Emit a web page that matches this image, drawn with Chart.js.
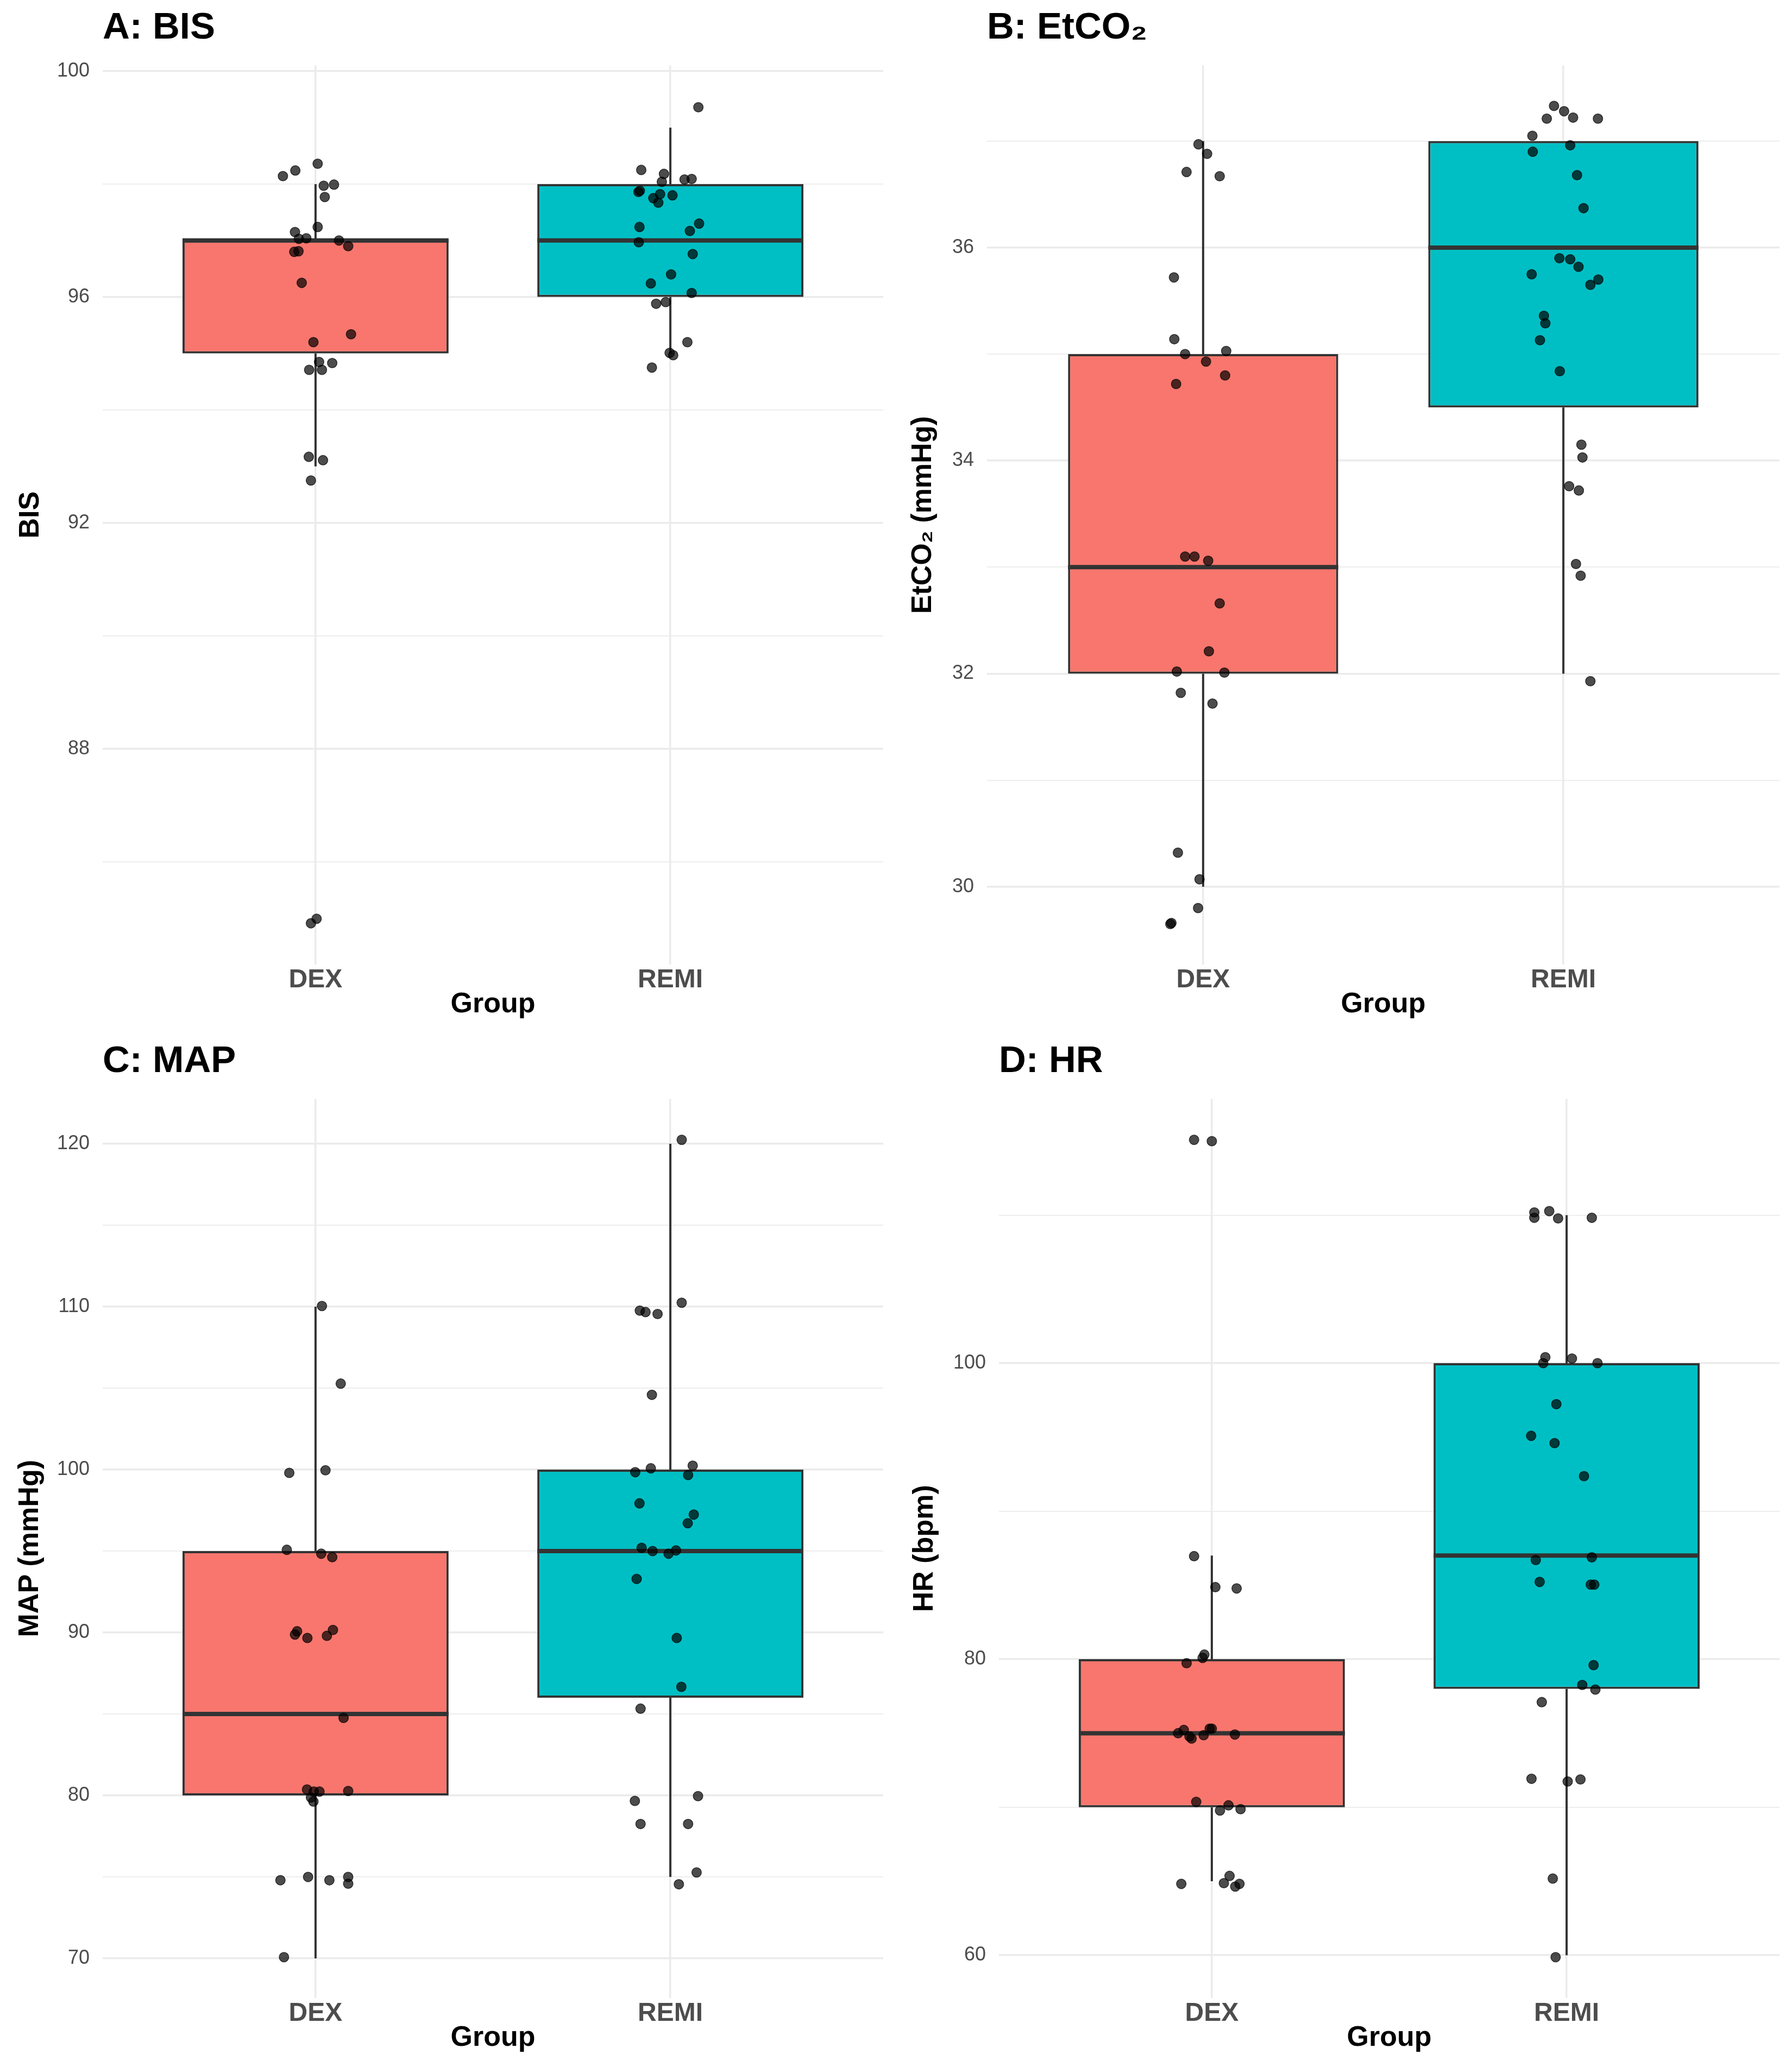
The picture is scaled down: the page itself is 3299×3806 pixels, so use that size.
<!DOCTYPE html>
<html>
<head>
<meta charset="utf-8">
<script src="https://cdn.jsdelivr.net/npm/chart.js@4.4.1/dist/chart.umd.min.js"></script>
<style>
  html, body { margin: 0; padding: 0; background: #ffffff; }
  #wrap { position: relative; width: 3299px; height: 3806px; }
  canvas { position: absolute; }
</style>
</head>
<body>
<div id="wrap">
  <canvas id="bis" width="1650" height="1903" style="left:0px;top:0px;width:1650px;height:1903px"></canvas>
  <canvas id="etco2" width="1649" height="1903" style="left:1650px;top:0px;width:1649px;height:1903px"></canvas>
  <canvas id="map" width="1650" height="1903" style="left:0px;top:1903px;width:1650px;height:1903px"></canvas>
  <canvas id="hr" width="1649" height="1903" style="left:1650px;top:1903px;width:1649px;height:1903px"></canvas>
</div>
<script>
//** DATA */
const groups = ['DEX', 'REMI'];
const groupColors = ['#F8766D', '#00BFC4'];

// box statistics, one value per group [DEX, REMI]
const bisQ1 = [95, 96], bisMedian = [97, 97], bisQ3 = [97, 98], bisLow = [93, 95], bisHigh = [98, 99];
const etco2Q1 = [32, 34.5], etco2Median = [33, 36], etco2Q3 = [35, 37], etco2Low = [30, 32], etco2High = [37, 37];
const mapQ1 = [80, 86], mapMedian = [85, 95], mapQ3 = [95, 100], mapLow = [70, 75], mapHigh = [110, 120];
const hrQ1 = [70, 78], hrMedian = [75, 87], hrQ3 = [80, 100], hrLow = [65, 60], hrHigh = [87, 110];

// jittered observations: [horizontal jitter, value]
const bisDex = [[-0.092,98.14],[-0.057,98.24],[0.006,98.36],[0.023,97.97],[0.052,97.99],[0.026,97.77],[0.006,97.24],
  [-0.058,97.15],[-0.047,97.03],[-0.026,97.04],[0.066,97.00],[0.092,96.90],[-0.060,96.80],[-0.048,96.81],[-0.039,96.25],
  [-0.006,95.20],[0.100,95.34],[0.010,94.85],[0.047,94.83],[-0.018,94.71],[0.018,94.71],[-0.019,93.17],[0.021,93.11],
  [-0.013,92.75],[-0.013,84.91],[0.003,84.99]];
const bisRemi = [[0.079,99.36],[-0.082,98.25],[-0.018,98.18],[0.040,98.08],[0.060,98.09],[-0.024,98.04],[-0.090,97.86],
  [-0.086,97.88],[-0.048,97.75],[-0.029,97.82],[0.006,97.80],[-0.034,97.67],[-0.087,97.24],[0.081,97.30],[0.055,97.17],
  [-0.089,96.97],[0.063,96.76],[0.002,96.40],[-0.055,96.24],[0.060,96.07],[-0.040,95.88],[-0.013,95.91],[0.048,95.20],
  [-0.002,95.01],[0.008,94.97],[-0.052,94.75]];
const etco2Dex = [[-0.013,36.97],[0.011,36.88],[-0.046,36.71],[0.046,36.67],[-0.081,35.72],[-0.080,35.14],[-0.050,35.00],
  [0.064,35.03],[0.008,34.93],[0.061,34.80],[-0.075,34.72],[-0.050,33.10],[-0.024,33.10],[0.014,33.06],[0.046,32.66],
  [0.016,32.21],[-0.073,32.02],[0.059,32.01],[-0.062,31.82],[0.026,31.72],[-0.070,30.32],[-0.010,30.07],[-0.014,29.80],
  [-0.091,29.65],[-0.088,29.66]];
const etco2Remi = [[-0.026,37.33],[0.002,37.28],[-0.046,37.21],[0.027,37.22],[0.096,37.21],[-0.086,37.05],[0.019,36.96],
  [-0.085,36.90],[0.038,36.68],[0.056,36.37],[-0.011,35.90],[0.019,35.89],[0.042,35.82],[-0.088,35.75],[0.097,35.70],
  [0.075,35.65],[-0.054,35.36],[-0.050,35.29],[-0.065,35.13],[-0.010,34.84],[0.050,34.15],[0.053,34.03],[0.016,33.76],
  [0.043,33.72],[0.035,33.03],[0.048,32.92],[0.075,31.93]];
const mapDex = [[0.018,110.04],[0.071,105.28],[-0.074,99.80],[0.028,99.96],[-0.081,95.08],[0.016,94.84],[0.047,94.63],
  [-0.052,90.08],[-0.058,89.88],[-0.023,89.67],[0.032,89.80],[0.049,90.16],[0.079,84.76],[-0.024,80.37],[-0.005,80.24],
  [0.011,80.24],[-0.013,79.88],[-0.006,79.63],[0.092,80.28],[-0.099,74.80],[-0.021,75.00],[0.039,74.80],[0.092,75.00],
  [0.092,74.59],[-0.089,70.08]];
const mapRemi = [[0.032,120.24],[0.032,110.24],[-0.086,109.76],[-0.070,109.67],[-0.036,109.55],[-0.052,104.59],[0.063,100.24],
  [-0.055,100.08],[-0.099,99.84],[0.050,99.67],[-0.087,97.93],[0.066,97.24],[0.049,96.71],[-0.081,95.20],[0.016,95.04],
  [-0.050,95.00],[-0.005,94.84],[-0.095,93.29],[0.018,89.67],[0.031,86.67],[-0.084,85.33],[-0.100,79.67],[0.078,79.96],
  [-0.084,78.25],[0.050,78.25],[0.074,75.28],[0.024,74.55]];
const hrDex = [[-0.050,115.09],[0.000,115.00],[-0.050,86.96],[0.010,84.87],[0.070,84.78],[-0.021,80.31],[-0.026,80.09],
  [-0.071,79.73],[-0.079,75.22],[-0.095,75.00],[-0.063,74.78],[-0.057,74.64],[-0.006,75.31],[0.000,75.31],[-0.023,74.87],
  [0.065,74.91],[-0.044,70.36],[0.047,70.13],[0.023,69.78],[0.081,69.87],[-0.086,64.82],[0.050,65.36],[0.034,64.87],
  [0.066,64.64],[0.078,64.82]];
const hrRemi = [[-0.091,110.18],[-0.049,110.27],[-0.091,109.82],[-0.024,109.78],[0.071,109.82],[-0.060,100.40],[0.015,100.31],
  [-0.066,100.00],[0.087,100.00],[-0.029,97.23],[-0.100,95.09],[-0.034,94.60],[0.049,92.37],[-0.087,86.70],[0.071,86.88],
  [-0.076,85.22],[0.068,85.04],[0.078,85.04],[0.076,79.60],[0.044,78.26],[0.081,77.95],[-0.070,77.10],[-0.099,71.92],
  [0.003,71.74],[0.039,71.88],[-0.039,65.18],[-0.031,59.87]];

// y axes: limits, labelled breaks, minor breaks
const bisRange = [84.18, 100.1], bisMajor = [88, 92, 96, 100], bisMinor = [86, 90, 94, 98];
const etco2Range = [29.27, 37.71], etco2Major = [30, 32, 34, 36], etco2Minor = [31, 33, 35, 37];
const mapRange = [67.57, 122.75], mapMajor = [70, 80, 90, 100, 110, 120], mapMinor = [75, 85, 95, 105, 115];
const hrRange = [57.11, 117.85], hrMajor = [60, 80, 100], hrMinor = [70, 90, 110];

//** STYLE */
const FONT = "'Liberation Sans', Arial, Helvetica, sans-serif";
const BOX_WIDTH = 0.75;
const LINE_COLOR = '#333333';
const GRID_COLOR = '#EBEBEB';
const PLOT_TOP = 120.5;
const PLOT_BOTTOM = 1776;

function makeChart(id, p) {
  const canvas = document.getElementById(id);
  const W = canvas.width, H = canvas.height;

  const pts = [];
  p.points.forEach((grp, g) => grp.forEach(([dx, v]) => pts.push({ x: g + 1 + dx, y: v })));

  const medians = [];
  const whiskers = [];
  groups.forEach((name, i) => {
    const c = i + 1;
    medians.push({ x: c - BOX_WIDTH / 2, y: p.median[i] }, { x: c + BOX_WIDTH / 2, y: p.median[i] }, { x: c, y: null });
    whiskers.push({ x: c, y: p.low[i] }, { x: c, y: p.q1[i] }, { x: c, y: null },
                  { x: c, y: p.q3[i] }, { x: c, y: p.high[i] }, { x: c, y: null });
  });

  const ticksY = p.major.concat(p.minor).sort((a, b) => a - b);

  return new Chart(canvas, {
    type: 'scatter',
    data: {
      datasets: [
        {
          type: 'scatter',
          data: pts,
          pointRadius: 8.8,
          pointBackgroundColor: 'rgba(0,0,0,0.7)',
          pointBorderColor: 'rgba(0,0,0,0.7)',
          pointBorderWidth: 1.5,
          order: 0,
        },
        {
          type: 'line',
          data: medians,
          borderColor: LINE_COLOR,
          borderWidth: 8,
          pointRadius: 0,
          spanGaps: false,
          order: 1,
        },
        {
          type: 'bar',
          data: groups.map((name, i) => ({ x: i + 1, y: [p.q1[i], p.q3[i]] })),
          backgroundColor: groupColors,
          borderColor: LINE_COLOR,
          borderWidth: 4,
          borderSkipped: false,
          barPercentage: BOX_WIDTH,
          categoryPercentage: 1,
          order: 2,
        },
        {
          type: 'line',
          data: whiskers,
          borderColor: LINE_COLOR,
          borderWidth: 4,
          pointRadius: 0,
          spanGaps: false,
          order: 3,
        },
      ],
    },
    options: {
      responsive: false,
      animation: false,
      devicePixelRatio: 1,
      events: [],
      layout: { padding: { left: 0, right: W - p.plotRight, top: 0, bottom: 0 } },
      plugins: {
        legend: { display: false },
        tooltip: { enabled: false },
        title: {
          display: true,
          text: p.title,
          align: 'start',
          fullSize: false,
          color: '#000000',
          font: { family: FONT, size: 69, weight: 'bold', lineHeight: 1.2 },
          padding: { top: 11, bottom: PLOT_TOP - 11 - 69 * 1.2 },
        },
      },
      scales: {
        x: {
          type: 'linear',
          min: 0.4,
          max: 2.6,
          offset: false,
          afterBuildTicks: (scale) => { scale.ticks = groups.map((name, i) => ({ value: i + 1 })); },
          afterFit: (scale) => { scale.height = H - PLOT_BOTTOM; },
          ticks: {
            autoSkip: false,
            maxRotation: 0,
            padding: 0,
            color: '#4D4D4D',
            font: { family: FONT, size: 48, weight: 'bold', lineHeight: 1.2 },
            callback: (v) => groups[Math.round(v) - 1],
          },
          grid: { color: GRID_COLOR, lineWidth: 3.5, drawTicks: false, offset: false },
          border: { display: false },
          title: {
            display: true,
            text: 'Group',
            color: '#000000',
            font: { family: FONT, size: 52, weight: 'bold', lineHeight: 1.2 },
            padding: { top: 0, bottom: 22 },
          },
        },
        y: {
          type: 'linear',
          min: p.range[0],
          max: p.range[1],
          afterBuildTicks: (scale) => { scale.ticks = ticksY.map((v) => ({ value: v })); },
          afterFit: (scale) => { scale.width = p.plotLeft; },
          ticks: {
            autoSkip: false,
            padding: 24,
            color: '#4D4D4D',
            font: { family: FONT, size: 36 },
            callback: (v) => (p.major.includes(v) ? String(v) : ''),
          },
          grid: {
            color: GRID_COLOR,
            lineWidth: (c) => (c.tick && p.major.includes(c.tick.value) ? 3.5 : 1.8),
            drawTicks: false,
          },
          border: { display: false },
          title: {
            display: true,
            text: p.yTitle,
            color: '#000000',
            font: { family: FONT, size: 52, weight: 'bold', lineHeight: 1.2 },
            padding: { top: p.yTitlePad, bottom: 0 },
          },
        },
      },
    },
  });
}

makeChart('bis', {
  title: 'A: BIS', yTitle: 'BIS', yTitlePad: 25, plotLeft: 189, plotRight: 1626,
  range: bisRange, major: bisMajor, minor: bisMinor,
  q1: bisQ1, median: bisMedian, q3: bisQ3, low: bisLow, high: bisHigh,
  points: [bisDex, bisRemi],
});
makeChart('etco2', {
  title: 'B: EtCO\u2082', yTitle: 'EtCO\u2082 (mmHg)', yTitlePad: 18, plotLeft: 167, plotRight: 1626,
  range: etco2Range, major: etco2Major, minor: etco2Minor,
  q1: etco2Q1, median: etco2Median, q3: etco2Q3, low: etco2Low, high: etco2High,
  points: [etco2Dex, etco2Remi],
});
makeChart('map', {
  title: 'C: MAP', yTitle: 'MAP (mmHg)', yTitlePad: 24, plotLeft: 189, plotRight: 1626,
  range: mapRange, major: mapMajor, minor: mapMinor,
  q1: mapQ1, median: mapMedian, q3: mapQ3, low: mapLow, high: mapHigh,
  points: [mapDex, mapRemi],
});
makeChart('hr', {
  title: 'D: HR', yTitle: 'HR (bpm)', yTitlePad: 21, plotLeft: 189, plotRight: 1626,
  range: hrRange, major: hrMajor, minor: hrMinor,
  q1: hrQ1, median: hrMedian, q3: hrQ3, low: hrLow, high: hrHigh,
  points: [hrDex, hrRemi],
});
</script>
</body>
</html>
